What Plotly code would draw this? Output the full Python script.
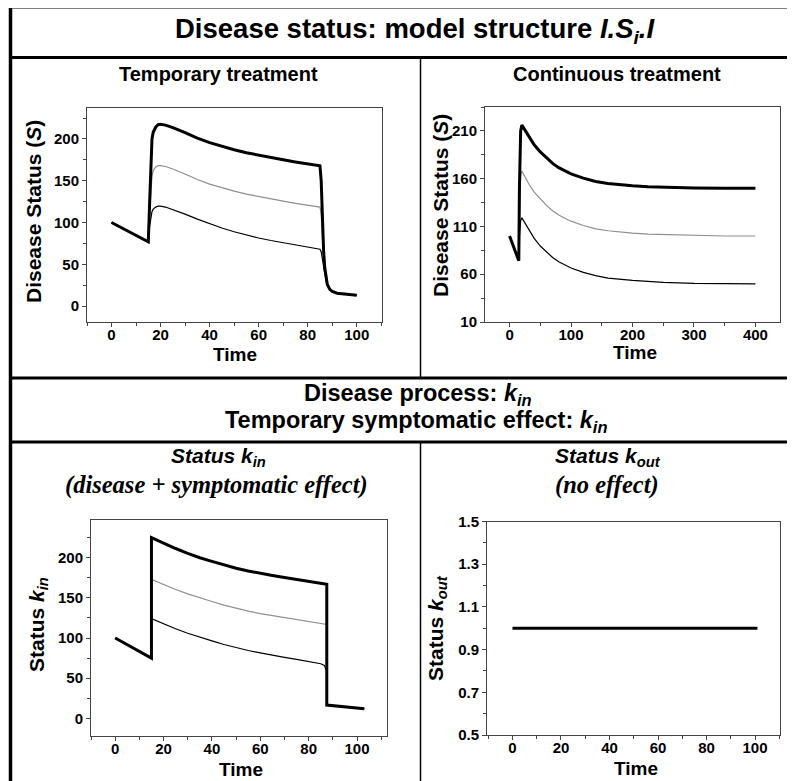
import plotly.graph_objects as go

# ---------------- data ----------------
# Panel A: temporary treatment (time 0-100)
t_temp = [0, 3, 6, 9, 12, 15, 15.5, 16, 16.5, 17, 18, 19, 20, 22, 25, 30, 35, 40, 45, 50,
          55, 60, 65, 70, 75, 80, 84, 85, 85.5, 86, 86.5, 87, 87.5, 88, 89, 90, 92, 95, 100]
s_temp_high = [100, 95.5, 91, 86, 81.5, 77, 120, 175, 200, 208, 214, 217, 217.5, 216.5, 213.5,
               207.5, 201, 195.5, 191, 187, 183.5, 180.5, 177.5, 175, 172.5, 170.5, 168.5, 168,
               150, 100, 65, 45, 33, 26, 20, 17.5, 15.5, 14.5, 13]
s_temp_mid = [100, 95.5, 91, 86, 81.5, 77, 110, 140, 155, 162, 166.5, 168, 168, 167, 164,
              158, 151.5, 146, 141.5, 137.5, 134, 131, 128, 125.5, 123, 121, 119, 118.5,
              110, 80, 55, 40, 31, 25, 20, 17.5, 15.5, 14.5, 13]
s_temp_low = [100, 95.5, 91, 86, 81.5, 77, 95, 108, 113, 116, 118.5, 119.5, 119.5, 118.5, 115.5,
              110, 104, 98.5, 93.5, 89, 85, 81.5, 78.5, 76, 73.5, 71, 69, 68,
              65, 55, 45, 37, 30, 25, 20, 17.5, 15.5, 14.5, 13]

# Panel B: continuous treatment (time 0-400)
t_cont = [0, 5, 10, 15, 16, 17, 18, 20, 30, 40, 50, 60, 70, 80, 90, 100, 120, 140, 160, 180,
          200, 225, 250, 300, 350, 400]
s_cont_high = [100, 92, 83, 74, 150, 195, 210, 216, 205, 195.5, 188, 181.5, 176, 171.5, 168, 165,
               160.5, 157, 155, 153.5, 152.5, 151.5, 151, 150.3, 150, 150]
s_cont_mid = [100, 92, 83, 74, 120, 150, 163, 168, 156, 146, 138.5, 132, 126.5, 122, 118.5, 115.5,
              111, 107.5, 105.5, 104, 103, 102, 101.5, 100.5, 100, 100]
s_cont_low = [100, 92, 83, 74, 100, 110, 116, 119, 107.5, 97.5, 89.5, 83, 77.5, 73, 69.5, 66.5,
              62, 58.5, 56, 54.5, 53.5, 52.5, 51.5, 50.5, 50, 50]

# Panel C: status k_in
t_kin = [0, 15, 15, 20, 25, 30, 35, 40, 45, 50, 55, 60, 65, 70, 75, 80, 85, 86.5, 87.5, 87.5, 103]
kin_high = [100, 75, 225, 218, 211.5, 205.5, 200, 195.5, 191, 187, 183.5, 180.5, 178, 175.5, 173,
            171, 168.5, 167.5, 167, 16.5, 12]
kin_mid = [100, 75, 173, 166.5, 160.5, 155, 150, 145.5, 141, 137, 133.5, 130.5, 128, 125.5, 123,
           121, 118.5, 117.5, 117, 16.5, 12]
kin_low = [100, 75, 124, 117.5, 111.5, 106, 101, 96.5, 92, 88, 84.5, 81.5, 78.5, 76, 73.5,
           71, 68, 66, 58, 16.5, 12]

# Panel D: status k_out
t_kout = [0, 101]
kout_vals = [1.0, 1.0]

# tick labels
ticks_a_x = [0, 20, 40, 60, 80, 100]
ticks_a_y = [0, 50, 100, 150, 200]
ticks_b_x = [0, 100, 200, 300, 400]
ticks_b_y = [10, 60, 110, 160, 210]
ticks_d_y = [0.5, 0.7, 0.9, 1.1, 1.3, 1.5]

# ---------------- figure ----------------
# the page body has an 8px margin, so the figure is placed at (8, 8)
OFF = 8
W, H = 795 - OFF, 781 - OFF
FONT = "Liberation Sans"
SERIF = "Liberation Serif"


def px(x):
    return (x - OFF) / W


def py(y):
    return 1 - (y - OFF) / H


fig = go.Figure()

series_styles = [
    dict(color="#8f8f8f", width=1.2),
    dict(color="black", width=1.2),
    dict(color="black", width=3),
]

panels = [
    ("x", "y", t_temp, [s_temp_mid, s_temp_low, s_temp_high]),
    ("x2", "y2", t_cont, [s_cont_mid, s_cont_low, s_cont_high]),
    ("x3", "y3", t_kin, [kin_mid, kin_low, kin_high]),
]
for xa, ya, t, ys in panels:
    for vals, st in zip(ys, series_styles):
        fig.add_trace(go.Scatter(x=t, y=vals, mode="lines", line=st, xaxis=xa, yaxis=ya,
                                 showlegend=False, hoverinfo="skip"))
fig.add_trace(go.Scatter(x=t_kout, y=kout_vals, mode="lines", line=dict(color="black", width=3),
                         xaxis="x4", yaxis="y4", showlegend=False, hoverinfo="skip"))

AX = dict(showline=True, mirror=True, linecolor="#444", linewidth=1, ticks="outside",
          ticklen=4, tickwidth=1, tickcolor="#444", showgrid=False, zeroline=False,
          automargin=False, tickfont=dict(family=FONT, size=15, color="black", weight="bold"))


def axis(domain, rng, tickvals, minor_dtick, anchor, standoff=0):
    d = dict(AX)
    d.update(domain=domain, range=rng, tickmode="array", tickvals=tickvals, anchor=anchor,
             ticklabelstandoff=standoff,
             minor=dict(ticks="outside", ticklen=3, tickwidth=1, tickcolor="#444",
                        dtick=minor_dtick, tick0=tickvals[0], showgrid=False))
    return d


fig.update_layout(
    width=W, height=H, margin=dict(l=0, r=0, t=0, b=0),
    paper_bgcolor="white", plot_bgcolor="white",
    xaxis=axis([px(87), px(382)], [-10, 110.3], ticks_a_x, 10, "y", -5),
    yaxis=axis([py(322), py(108)], [-19, 237], ticks_a_y, 25, "x"),
    xaxis2=axis([px(485), px(780)], [-40, 440], ticks_b_x, 50, "y2", -5),
    yaxis2=axis([py(322), py(107)], [10, 235], ticks_b_y, 25, "x2"),
    xaxis3=axis([px(91), px(387)], [-10, 112.4], ticks_a_x, 10, "y3", -5),
    yaxis3=axis([py(736), py(520)], [-22, 247], ticks_a_y, 25, "x3"),
    xaxis4=axis([px(487), px(780)], [-10.5, 110.3], ticks_a_x, 10, "y4", -5),
    yaxis4=axis([py(735), py(521.5)], [0.5, 1.5], ticks_d_y, 0.1, "x4"),
)

# frame lines
LINE = "black"
shapes = [
    (10.5, 7, 10.5, 800, 3.5),       # left border
    (9, 7, 820, 7, 3),               # top border
    (9, 57.5, 820, 57.5, 3),         # under title
    (420.5, 57.5, 420.5, 378, 1.5),  # divider top
    (9, 378, 820, 378, 3),           # middle top
    (9, 442, 820, 442, 3),           # middle bottom
    (420.5, 442, 420.5, 800, 1.5),   # divider bottom
]
for x0, y0, x1, y1, w in shapes:
    fig.add_shape(type="line", xref="paper", yref="paper", x0=px(x0), y0=py(y0),
                  x1=px(x1), y1=py(y1), line=dict(color=LINE, width=w))


def ann(text, x, y, size, family=FONT, angle=0):
    fig.add_annotation(text=text, x=px(x), y=py(y), xref="paper", yref="paper",
                       showarrow=False, xanchor="center", yanchor="middle", textangle=angle,
                       font=dict(family=family, size=size, color="black"))


ann("<b>Disease status: model structure <i>I.S<sub>i</sub>.I</i></b>", 415, 31, 27.5)
ann("<b>Temporary treatment</b>", 218, 74, 20)
ann("<b>Continuous treatment</b>", 617, 74, 20)
ann("<b>Disease process: <i>k<sub>in</sub></i></b>", 418, 394, 23.5)
ann("<b>Temporary symptomatic effect: <i>k<sub>in</sub></i></b>", 416, 421, 23.5)
ann("<b><i>Status k<sub>in</sub></i></b>", 218, 457, 21)
ann("<b><i>(disease + symptomatic effect)</i></b>", 217, 485, 24.5, SERIF)
ann("<b><i>Status k<sub>out</sub></i></b>", 608, 457, 21)
ann("<b><i>(no effect)</i></b>", 607, 485, 24.5, SERIF)

# axis titles
ann("<b>Disease Status (<i>S</i>)</b>", 34, 212, 21, angle=-90)
ann("<b>Disease Status (<i>S</i>)</b>", 440, 206, 21, angle=-90)
ann("<b>Status <i>k<sub>in</sub></i></b>", 38, 625, 21, angle=-90)
ann("<b>Status <i>k<sub>out</sub></i></b>", 437, 628, 21, angle=-90)
ann("<b>Time</b>", 235, 354, 19)
ann("<b>Time</b>", 635, 353, 19)
ann("<b>Time</b>", 241, 769, 19)
ann("<b>Time</b>", 636, 768, 19)

fig.write_html("out.html")
